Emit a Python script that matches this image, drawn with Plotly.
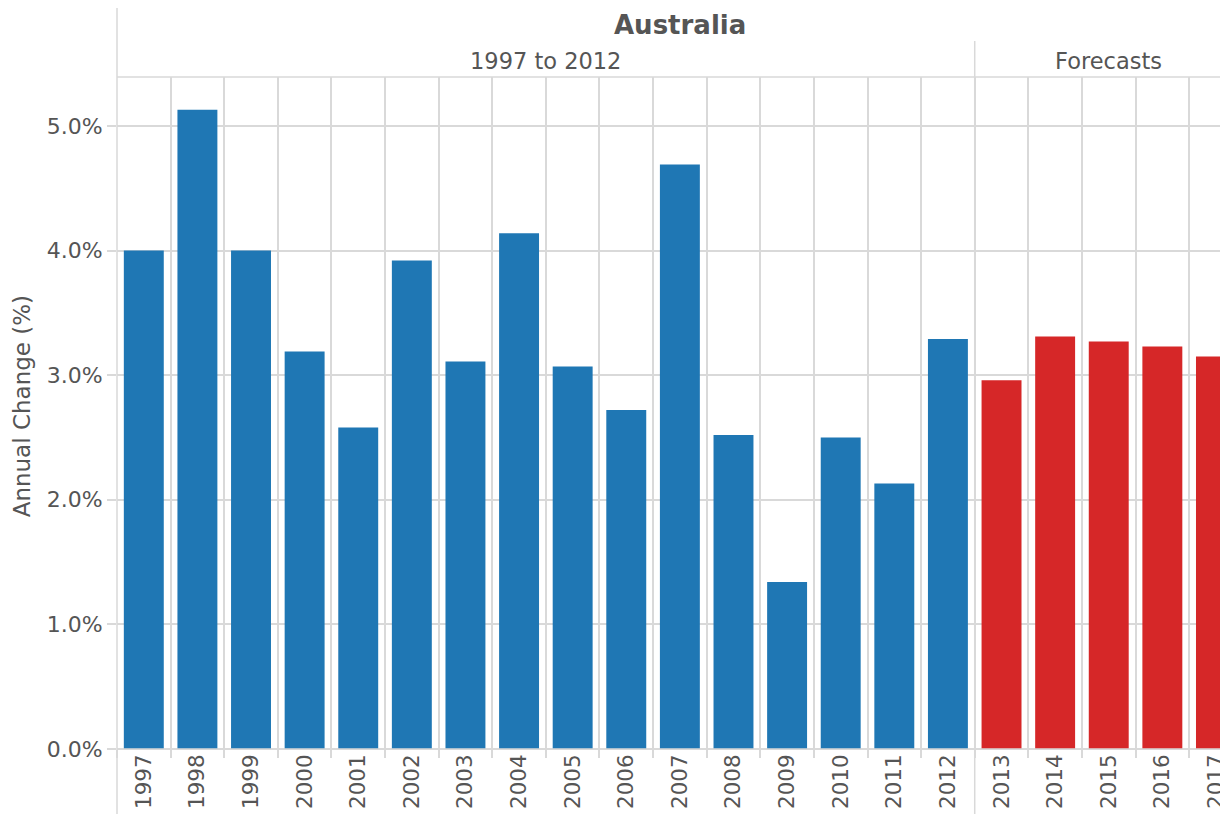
import plotly.graph_objects as go

years = [str(y) for y in range(1997, 2018)]
values = [4.00, 5.13, 4.00, 3.19, 2.58, 3.92, 3.11, 4.14, 3.07, 2.72, 4.69,
          2.52, 1.34, 2.50, 2.13, 3.29, 2.96, 3.31, 3.27, 3.23, 3.15]
groups = ["1997 to 2012"] * 16 + ["Forecasts"] * 5
group_colors = {"1997 to 2012": "#1f77b4", "Forecasts": "#d62728"}
y_ticks = [0, 1, 2, 3, 4, 5]

GRID = "#d9d9d9"
TXT = "#555555"
FONT = "DejaVu Sans"

fig = go.Figure()
fig.add_trace(go.Bar(
    x=years, y=values,
    marker=dict(color=[group_colors[g] for g in groups], line=dict(width=0)),
    showlegend=False,
))

# page has an 8px body margin; figure sized so it ends at 1228x814
OFF = 8
W, H = 1228 - OFF, 814 - OFF
L, R, T, B = 117 - OFF, 0, 77 - OFF, 65
ph = H - T - B
plot_bottom_page = OFF + H - B

def py(p):
    return (plot_bottom_page - p) / ph

fig.update_layout(
    width=W, height=H,
    margin=dict(l=L, r=R, t=T, b=B),
    plot_bgcolor="white", paper_bgcolor="white",
    bargap=0.255,
    font=dict(family=FONT, color=TXT, size=21),
    xaxis=dict(
        type="category", range=[-0.5, 20.15],
        tickson="boundaries", showgrid=True, gridcolor=GRID, gridwidth=1.5,
        ticks="outside", ticklen=8, tickcolor=GRID, tickwidth=1.5,
        tickangle=-90, tickfont=dict(size=21.5, color=TXT),
        showline=False, zeroline=False,
    ),
    yaxis=dict(
        range=[0, 5.393], tickvals=y_ticks,
        ticktext=[f"{v:.1f}%" for v in y_ticks],
        showgrid=True, gridcolor=GRID, gridwidth=1.5,
        ticks="outside", ticklen=9, tickcolor=GRID, tickwidth=1.5,
        tickfont=dict(size=22, color=TXT),
        showline=False, zeroline=True, zerolinecolor=GRID, zerolinewidth=1.5,
    ),
)

shapes = [
    dict(type="line", xref="paper", yref="paper", x0=0, x1=0, y0=py(814), y1=py(6),
         line=dict(color=GRID, width=1.5)),
    dict(type="line", xref="paper", yref="paper", x0=0, x1=1, y0=1, y1=1,
         line=dict(color=GRID, width=1.5)),
    dict(type="line", xref="x", yref="paper", x0=15.5, x1=15.5, y0=py(814), y1=py(41),
         line=dict(color=GRID, width=1.5)),
    dict(type="line", xref="paper", yref="paper", x0=0, x1=1, y0=0, y1=0,
         line=dict(color=GRID, width=1.5)),
]
fig.update_layout(shapes=shapes)

annotations = [
    dict(text="<b>Australia</b>", x=10, xref="x", y=py(25), yref="paper",
         showarrow=False, font=dict(size=26, color=TXT), xanchor="center", yanchor="middle"),
    dict(text="1997 to 2012", x=7.5, xref="x", y=py(61), yref="paper",
         showarrow=False, font=dict(size=22.5, color=TXT), xanchor="center", yanchor="middle"),
    dict(text="Forecasts", x=18, xref="x", y=py(61), yref="paper",
         showarrow=False, font=dict(size=22.5, color=TXT), xanchor="center", yanchor="middle"),
    dict(text="Annual Change (%)", x=(22 - 117) / (W - L - R), xref="paper", y=py(406), yref="paper",
         showarrow=False, textangle=-90, font=dict(size=23, color=TXT),
         xanchor="center", yanchor="middle"),
]
fig.update_layout(annotations=annotations)

fig.write_html("out.html")
